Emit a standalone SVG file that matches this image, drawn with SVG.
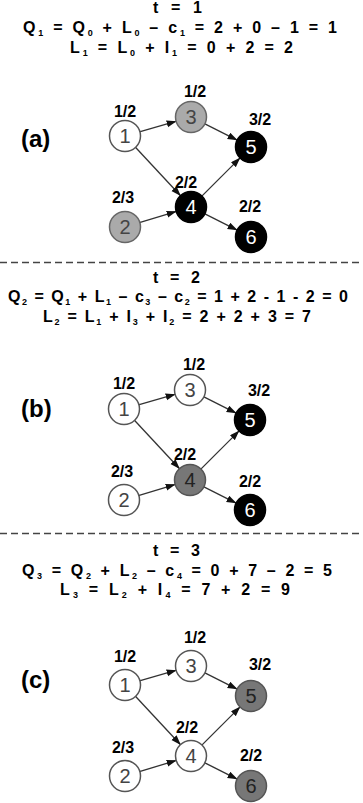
<svg xmlns="http://www.w3.org/2000/svg" width="363" height="803" viewBox="0 0 363 803">
<style>
.hd{font-family:"Liberation Sans",Arial,sans-serif;font-weight:bold;font-size:16px;fill:#000}
.sb{font-size:9px}
.pl{font-family:"Liberation Sans",Arial,sans-serif;font-weight:bold;font-size:24px;fill:#000}
.lb{font-family:"Liberation Sans",Arial,sans-serif;font-weight:bold;font-size:16px;fill:#000;text-anchor:middle}
.nt{font-family:"Liberation Sans",Arial,sans-serif;font-size:20px;text-anchor:middle}
.w{fill:#fff;stroke:#555;stroke-width:1.5}
.g{fill:#aaa;stroke:#666;stroke-width:1.5}
.d{fill:#777;stroke:#555;stroke-width:1.5}
.k{fill:#000;stroke:#000;stroke-width:1.5}
.tw{fill:#444}
.tk{fill:#fff}
.td{fill:#222}
.e{stroke:#333;stroke-width:1.3;fill:none;marker-end:url(#ah)}
.dash{stroke:#444;stroke-width:1.3;stroke-dasharray:7 4}
</style>
<defs>
<marker id="ah" markerUnits="userSpaceOnUse" markerWidth="11" markerHeight="8" refX="10" refY="3.5" orient="auto">
<path d="M0,0 L10,3.5 L0,7 z" fill="#111"/>
</marker>
</defs>
<rect width="363" height="803" fill="#fff"/>

<g id="header-a">
<text class="hd" x="153" y="13" textLength="49">t = 1</text>
<text class="hd" x="23" y="33" textLength="314">Q<tspan class="sb" dy="3">1</tspan><tspan dy="-3"> = Q</tspan><tspan class="sb" dy="3">0</tspan><tspan dy="-3"> + L</tspan><tspan class="sb" dy="3">0</tspan><tspan dy="-3"> – c</tspan><tspan class="sb" dy="3">1</tspan><tspan dy="-3"> = 2 + 0 – 1 = 1</tspan></text>
<text class="hd" x="70" y="53" textLength="223">L<tspan class="sb" dy="3">1</tspan><tspan dy="-3"> = L</tspan><tspan class="sb" dy="3">0</tspan><tspan dy="-3"> + I</tspan><tspan class="sb" dy="3">1</tspan><tspan dy="-3"> = 0 + 2 = 2</tspan></text>
</g>
<g id="header-b">
<text class="hd" x="153" y="283" textLength="47">t = 2</text>
<text class="hd" x="8" y="302" textLength="340">Q<tspan class="sb" dy="3">2</tspan><tspan dy="-3"> = Q</tspan><tspan class="sb" dy="3">1</tspan><tspan dy="-3"> + L</tspan><tspan class="sb" dy="3">1</tspan><tspan dy="-3"> – c</tspan><tspan class="sb" dy="3">3</tspan><tspan dy="-3"> – c</tspan><tspan class="sb" dy="3">2</tspan><tspan dy="-3"> = 1 + 2 - 1 - 2 = 0</tspan></text>
<text class="hd" x="43" y="322" textLength="268">L<tspan class="sb" dy="3">2</tspan><tspan dy="-3"> = L</tspan><tspan class="sb" dy="3">1</tspan><tspan dy="-3"> + I</tspan><tspan class="sb" dy="3">3</tspan><tspan dy="-3"> + I</tspan><tspan class="sb" dy="3">2</tspan><tspan dy="-3"> = 2 + 2 + 3 = 7</tspan></text>
</g>
<g id="header-c">
<text class="hd" x="153" y="556" textLength="47">t = 3</text>
<text class="hd" x="22" y="576" textLength="310">Q<tspan class="sb" dy="3">3</tspan><tspan dy="-3"> = Q</tspan><tspan class="sb" dy="3">2</tspan><tspan dy="-3"> + L</tspan><tspan class="sb" dy="3">2</tspan><tspan dy="-3"> – c</tspan><tspan class="sb" dy="3">4</tspan><tspan dy="-3"> = 0 + 7 – 2 = 5</tspan></text>
<text class="hd" x="60" y="595" textLength="230">L<tspan class="sb" dy="3">3</tspan><tspan dy="-3"> = L</tspan><tspan class="sb" dy="3">2</tspan><tspan dy="-3"> + I</tspan><tspan class="sb" dy="3">4</tspan><tspan dy="-3"> = 7 + 2 = 9</tspan></text>
</g>

<g id="separators">
<line class="dash" x1="0" y1="262.5" x2="363" y2="262.5"/>
<line class="dash" x1="0" y1="533.5" x2="363" y2="533.5"/>
</g>

<text class="pl" x="21" y="147">(a)</text>
<text class="pl" x="21" y="417">(b)</text>
<text class="pl" x="21" y="688">(c)</text>

<g id="panel-a" transform="translate(125,136)">
<g id="edges-a">
<line class="e" x1="14.4" y1="-4.15" x2="51.6" y2="-14.85"/>
<line class="e" x1="10.2" y1="11" x2="55.8" y2="60"/>
<line class="e" x1="14.36" y1="86.65" x2="51.64" y2="75.35"/>
<line class="e" x1="79.4" y1="-12.3" x2="112.6" y2="4.3"/>
<line class="e" x1="76.6" y1="60.4" x2="115.4" y2="21.6"/>
<line class="e" x1="79.4" y1="77.7" x2="112.6" y2="94.3"/>
</g>
<g id="a-n1"><circle class="w" cx="0" cy="0" r="15.5"/><text class="nt tw" x="0" y="7">1</text><text class="lb" x="0" y="-19">1/2</text></g>
<g id="a-n3"><circle class="g" cx="66" cy="-19" r="15.5"/><text class="nt tw" x="66" y="-12">3</text><text class="lb" x="70" y="-39">1/2</text></g>
<g id="a-n5"><circle class="k" cx="126" cy="11" r="15.5"/><text class="nt tk" x="126" y="18">5</text><text class="lb" x="135" y="-11">3/2</text></g>
<g id="a-n4"><circle class="k" cx="66" cy="71" r="15.5"/><text class="nt tk" x="66" y="78">4</text><text class="lb" x="61" y="52">2/2</text></g>
<g id="a-n2"><circle class="g" cx="0" cy="91" r="15.5"/><text class="nt tw" x="0" y="98">2</text><text class="lb" x="-2" y="67">2/3</text></g>
<g id="a-n6"><circle class="k" cx="126" cy="101" r="15.5"/><text class="nt tk" x="126" y="108">6</text><text class="lb" x="125" y="76">2/2</text></g>
</g>

<g id="panel-b" transform="translate(124,409)">
<g id="edges-b">
<line class="e" x1="14.4" y1="-4.15" x2="51.6" y2="-14.85"/>
<line class="e" x1="10.2" y1="11" x2="55.8" y2="60"/>
<line class="e" x1="14.36" y1="86.65" x2="51.64" y2="75.35"/>
<line class="e" x1="79.4" y1="-12.3" x2="112.6" y2="4.3"/>
<line class="e" x1="76.6" y1="60.4" x2="115.4" y2="21.6"/>
<line class="e" x1="79.4" y1="77.7" x2="112.6" y2="94.3"/>
</g>
<g id="b-n1"><circle class="w" cx="0" cy="0" r="15.5"/><text class="nt tw" x="0" y="7">1</text><text class="lb" x="0" y="-20">1/2</text></g>
<g id="b-n3"><circle class="w" cx="66" cy="-19" r="15.5"/><text class="nt tw" x="66" y="-12">3</text><text class="lb" x="70" y="-39">1/2</text></g>
<g id="b-n5"><circle class="k" cx="126" cy="11" r="15.5"/><text class="nt tk" x="126" y="18">5</text><text class="lb" x="135" y="-13">3/2</text></g>
<g id="b-n4"><circle class="d" cx="66" cy="71" r="15.5"/><text class="nt td" x="66" y="78">4</text><text class="lb" x="61" y="51">2/2</text></g>
<g id="b-n2"><circle class="w" cx="0" cy="91" r="15.5"/><text class="nt tw" x="0" y="98">2</text><text class="lb" x="-2" y="68">2/3</text></g>
<g id="b-n6"><circle class="k" cx="126" cy="101" r="15.5"/><text class="nt tk" x="126" y="108">6</text><text class="lb" x="126" y="78">2/2</text></g>
</g>

<g id="panel-c" transform="translate(125,685)">
<g id="edges-c">
<line class="e" x1="14.4" y1="-4.15" x2="51.6" y2="-14.85"/>
<line class="e" x1="10.2" y1="11" x2="55.8" y2="60"/>
<line class="e" x1="14.36" y1="86.65" x2="51.64" y2="75.35"/>
<line class="e" x1="79.4" y1="-12.3" x2="112.6" y2="4.3"/>
<line class="e" x1="76.6" y1="60.4" x2="115.4" y2="21.6"/>
<line class="e" x1="79.4" y1="77.7" x2="112.6" y2="94.3"/>
</g>
<g id="c-n1"><circle class="w" cx="0" cy="0" r="15.5"/><text class="nt tw" x="0" y="7">1</text><text class="lb" x="0" y="-23">1/2</text></g>
<g id="c-n3"><circle class="w" cx="66" cy="-19" r="15.5"/><text class="nt tw" x="66" y="-12">3</text><text class="lb" x="70" y="-42">1/2</text></g>
<g id="c-n5"><circle class="d" cx="126" cy="11" r="15.5"/><text class="nt td" x="126" y="18">5</text><text class="lb" x="135" y="-15">3/2</text></g>
<g id="c-n4"><circle class="w" cx="66" cy="71" r="15.5"/><text class="nt tw" x="66" y="78">4</text><text class="lb" x="62" y="48">2/2</text></g>
<g id="c-n2"><circle class="w" cx="0" cy="91" r="15.5"/><text class="nt tw" x="0" y="98">2</text><text class="lb" x="-2" y="68">2/3</text></g>
<g id="c-n6"><circle class="d" cx="126" cy="101" r="15.5"/><text class="nt td" x="126" y="108">6</text><text class="lb" x="126" y="76">2/2</text></g>
</g>
</svg>
